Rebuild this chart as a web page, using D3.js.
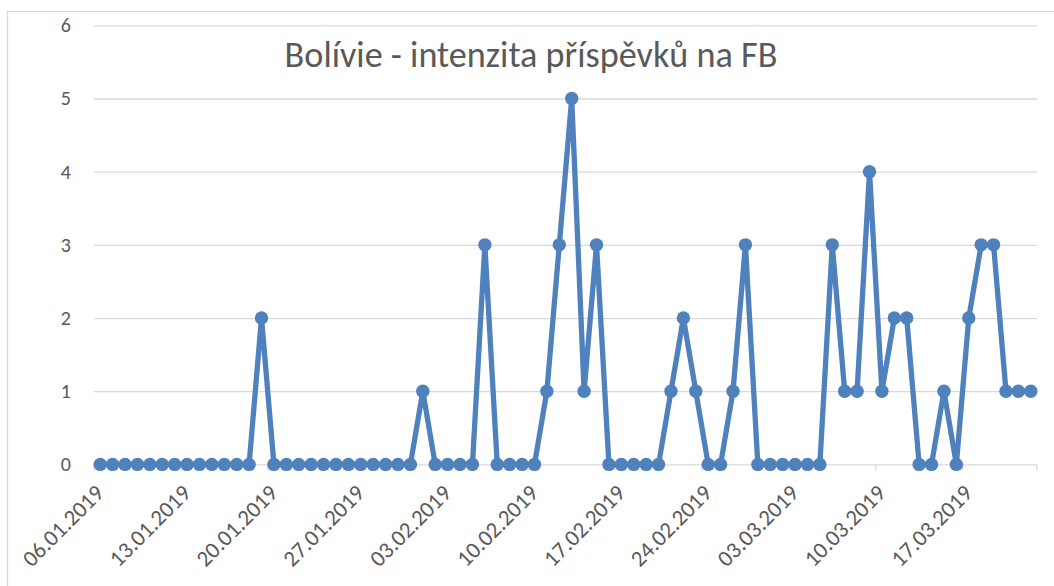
<!DOCTYPE html>
<html>
<head>
<meta charset="utf-8">
<script src="https://cdn.jsdelivr.net/npm/d3@7"></script>
<style>
  html, body { margin: 0; padding: 0; background: #fff; }
  svg { display: block; }
  text { font-family: Carlito, Calibri, Lato, "Open Sans", sans-serif; fill: #595959; }
</style>
</head>
<body>
<svg id="chart" width="1054" height="586"></svg>
<script>
const title = "Bolívie - intenzita příspěvků na FB";

const categories = [
  "06.01.2019","07.01.2019","08.01.2019","09.01.2019","10.01.2019","11.01.2019","12.01.2019",
  "13.01.2019","14.01.2019","15.01.2019","16.01.2019","17.01.2019","18.01.2019","19.01.2019",
  "20.01.2019","21.01.2019","22.01.2019","23.01.2019","24.01.2019","25.01.2019","26.01.2019",
  "27.01.2019","28.01.2019","29.01.2019","30.01.2019","31.01.2019","01.02.2019","02.02.2019",
  "03.02.2019","04.02.2019","05.02.2019","06.02.2019","07.02.2019","08.02.2019","09.02.2019",
  "10.02.2019","11.02.2019","12.02.2019","13.02.2019","14.02.2019","15.02.2019","16.02.2019",
  "17.02.2019","18.02.2019","19.02.2019","20.02.2019","21.02.2019","22.02.2019","23.02.2019",
  "24.02.2019","25.02.2019","26.02.2019","27.02.2019","28.02.2019","01.03.2019","02.03.2019",
  "03.03.2019","04.03.2019","05.03.2019","06.03.2019","07.03.2019","08.03.2019","09.03.2019",
  "10.03.2019","11.03.2019","12.03.2019","13.03.2019","14.03.2019","15.03.2019","16.03.2019",
  "17.03.2019","18.03.2019","19.03.2019","20.03.2019","21.03.2019","22.03.2019"
];

const values = [
  0,0,0,0,0,0,0,
  0,0,0,0,0,0,2,
  0,0,0,0,0,0,0,
  0,0,0,0,0,1,0,
  0,0,0,3,0,0,0,
  0,1,3,5,1,3,0,
  0,0,0,0,1,2,1,
  0,0,1,3,0,0,0,
  0,0,0,3,1,1,4,
  1,2,2,0,0,1,0,
  2,3,3,1,1,1
];

const xTickLabels = [
  "06.01.2019","13.01.2019","20.01.2019","27.01.2019","03.02.2019","10.02.2019",
  "17.02.2019","24.02.2019","03.03.2019","10.03.2019","17.03.2019"
];

const yTicks = [0, 1, 2, 3, 4, 5, 6];

const svg = d3.select("#chart");
const plot = { left: 94, right: 1037, top: 25.3, bottom: 464.4 };
const lineColor = "#4f81bd";
const gridColor = "#d9d9d9";

// chart border
svg.append("rect")
  .attr("x", 7.5).attr("y", 11.5)
  .attr("width", 1070).attr("height", 600)
  .attr("fill", "#fff").attr("stroke", gridColor).attr("stroke-width", 1.3);

const x = d3.scaleBand().domain(categories).range([plot.left, plot.right]).padding(0);
const y = d3.scaleLinear().domain([0, 6]).range([plot.bottom, plot.top]);

// y grid + labels
const yAxis = d3.axisLeft(y).tickValues(yTicks).tickSize(-(plot.right - plot.left)).tickPadding(23).tickFormat(d3.format("d"));
const gy = svg.append("g").attr("transform", `translate(${plot.left},0)`).call(yAxis);
gy.select(".domain").remove();
gy.selectAll(".tick line").attr("stroke", gridColor).attr("stroke-width", 1.3);
gy.selectAll(".tick text").attr("font-size", 20).attr("fill", "#595959");

// x axis ticks (at band starts of labelled dates)
const gx = svg.append("g");
gx.selectAll("line.tick")
  .data(xTickLabels)
  .join("line")
  .attr("x1", d => x(d)).attr("x2", d => x(d))
  .attr("y1", plot.bottom).attr("y2", plot.bottom + 6)
  .attr("stroke", gridColor).attr("stroke-width", 1.3);
gx.append("line")
  .attr("x1", plot.right).attr("x2", plot.right)
  .attr("y1", plot.bottom).attr("y2", plot.bottom + 6)
  .attr("stroke", gridColor).attr("stroke-width", 1.3);

const xl = gx.selectAll("text.xl")
  .data(xTickLabels)
  .join("text")
  .attr("class", "xl")
  .attr("text-anchor", "end")
  .attr("font-size", 20)
  .text(d => d);
const xlen = xl.node().getComputedTextLength();
const xfs = xlen > 0 ? 20 * 104 / xlen : 20;
xl.attr("font-size", xfs)
  .attr("transform", d => `translate(${x(d) + x.bandwidth() / 2 + 5},${plot.bottom + 30}) rotate(-45)`);

// line
const data = categories.map((c, i) => ({ c, v: values[i] }));
const line = d3.line().x(d => x(d.c) + x.bandwidth() / 2).y(d => y(d.v));
svg.append("path")
  .datum(data)
  .attr("d", line)
  .attr("fill", "none")
  .attr("stroke", lineColor)
  .attr("stroke-width", 5.3)
  .attr("stroke-linejoin", "round");

svg.append("g").selectAll("circle")
  .data(data)
  .join("circle")
  .attr("cx", d => x(d.c) + x.bandwidth() / 2)
  .attr("cy", d => y(d.v))
  .attr("r", 6.7)
  .attr("fill", lineColor);

// title
const t = svg.append("text")
  .attr("x", 531).attr("y", 67)
  .attr("text-anchor", "middle")
  .attr("font-size", 34)
  .attr("font-weight", 300)
  .attr("fill", "#595959")
  .text(title);
const len = t.node().getComputedTextLength();
if (len > 0) t.attr("font-size", 34 * 493 / len);
</script>
</body>
</html>
